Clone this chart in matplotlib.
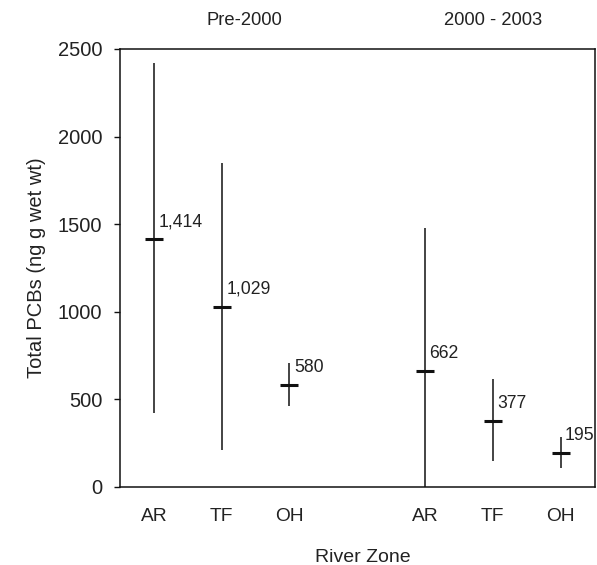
import matplotlib
matplotlib.use("Agg")
import matplotlib.pyplot as plt
import matplotlib.transforms as mtransforms

plt.rcParams['font.family'] = ['Liberation Sans', 'DejaVu Sans']

zones = ["AR", "TF", "OH", "AR", "TF", "OH"]
positions = [1, 2, 3, 5, 6, 7]
means = [1414, 1029, 580, 662, 377, 195]
lows = [425, 214, 461, 0, 147, 111]
highs = [2419, 1848, 709, 1480, 615, 286]
periods = ["Pre-2000", "2000 - 2003"]
period_x = [2.33, 6.01]
yticks = [0, 500, 1000, 1500, 2000, 2500]

txt = "#222222"
line = "#111111"

fig = plt.figure(figsize=(5.97, 5.65), dpi=100)
ax = fig.add_axes([120/597, 1-487/565, 474.5/597, 438/565])

ax.vlines(positions, lows, highs, color=line, lw=1.1)
ax.plot(positions, means, linestyle='none', marker='_', markersize=13,
        markeredgewidth=2.2, color=line)
for x, m in zip(positions, means):
    ax.annotate(f"{m:,}", (x, m), xytext=(4.5, 13), textcoords='offset pixels',
                ha='left', va='baseline', fontsize=12.7, color=txt)

ax.set_xlim(0.5, 7.5)
ax.set_ylim(0, 2500)
ax.set_yticks(yticks)
ax.set_yticklabels([str(v) for v in yticks])
ax.set_xticks(positions)
ax.set_xticklabels(zones)
ax.tick_params(axis='y', direction='out', length=4.3, width=1.0, pad=8.5,
               labelsize=14.5, colors=line, labelcolor=txt)
ax.tick_params(axis='x', length=0, pad=15, labelsize=13.8, labelcolor=txt)
for s in ax.spines.values():
    s.set_linewidth(1.1)
    s.set_color(line)

ax.text(-0.1755, 0.5, "Total PCBs (ng g wet wt)", rotation=90, ha='center',
        va='center', transform=ax.transAxes, fontsize=14.5, color=txt)
ax.text(0.512, -0.162, "River Zone", ha='center', va='center',
        transform=ax.transAxes, fontsize=14, color=txt)
trans = mtransforms.blended_transform_factory(ax.transData, ax.transAxes)
for px, p in zip(period_x, periods):
    ax.text(px, 1.066, p, ha='center', va='center', transform=trans,
            fontsize=13.2, color=txt)

fig.savefig("out.png", dpi=100)
